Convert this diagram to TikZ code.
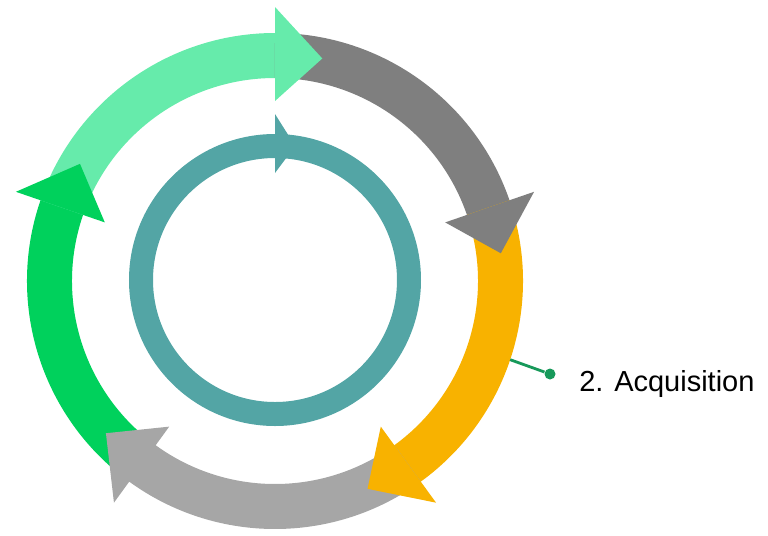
\documentclass[tikz,border=0pt]{standalone}
\usepackage{fontspec}
\setmainfont{Liberation Sans}
\usetikzlibrary{positioning}
\definecolor{leafgreen}{HTML}{00D15C}
\definecolor{mint}{HTML}{66EBAB}
\definecolor{darkgrey}{HTML}{7F7F7F}
\definecolor{amber}{HTML}{F8B200}
\definecolor{lightgrey}{HTML}{A6A6A6}
\definecolor{tealring}{HTML}{53A5A5}
\definecolor{linkgreen}{HTML}{17995A}

\begin{document}
\begin{tikzpicture}
\useasboundingbox (-5.5,-5.08) rectangle (9.86,5.62);
% outer cycle: shafts first, heads on top
\foreach \s/\e/\c in {234/160/leafgreen, 161/89/mint, 90/18/darkgrey, 19/-55/amber, -54/-127/lightgrey}
  \fill[\c] (\s:4.96) arc[start angle=\s, end angle=\e, radius=4.96] -- (\e:4.06) arc[start angle=\e, end angle=\s, radius=4.06] -- cycle;
\foreach \h/\c in {161/leafgreen, 90/mint, 19/darkgrey, -54/amber, -126/lightgrey}
  \fill[\c] (\h:5.48) -- ({\h-12}:4.55) -- (\h:3.6) -- cycle;

% inner ring
\draw[tealring, line width=0.48cm] (0,0.02) circle[radius=2.68];
\fill[tealring] (90:3.34) -- (81.5:2.73) -- (90:2.16) -- cycle;

\coordinate (acqedge) at (-18.5:4.96);
\node[circle, fill=linkgreen, inner sep=0, minimum size=0.22cm] (acqdot) at (5.5,-1.86) {};
\node[font=\fontsize{16.5}{20}\selectfont, text=black, anchor=base west, inner sep=0] (acqlabel) at (6.08,-2.2) {2. Acquisition};
\draw[linkgreen, line width=1.6pt] (acqedge) -- (acqdot);

\end{tikzpicture}
\end{document}
